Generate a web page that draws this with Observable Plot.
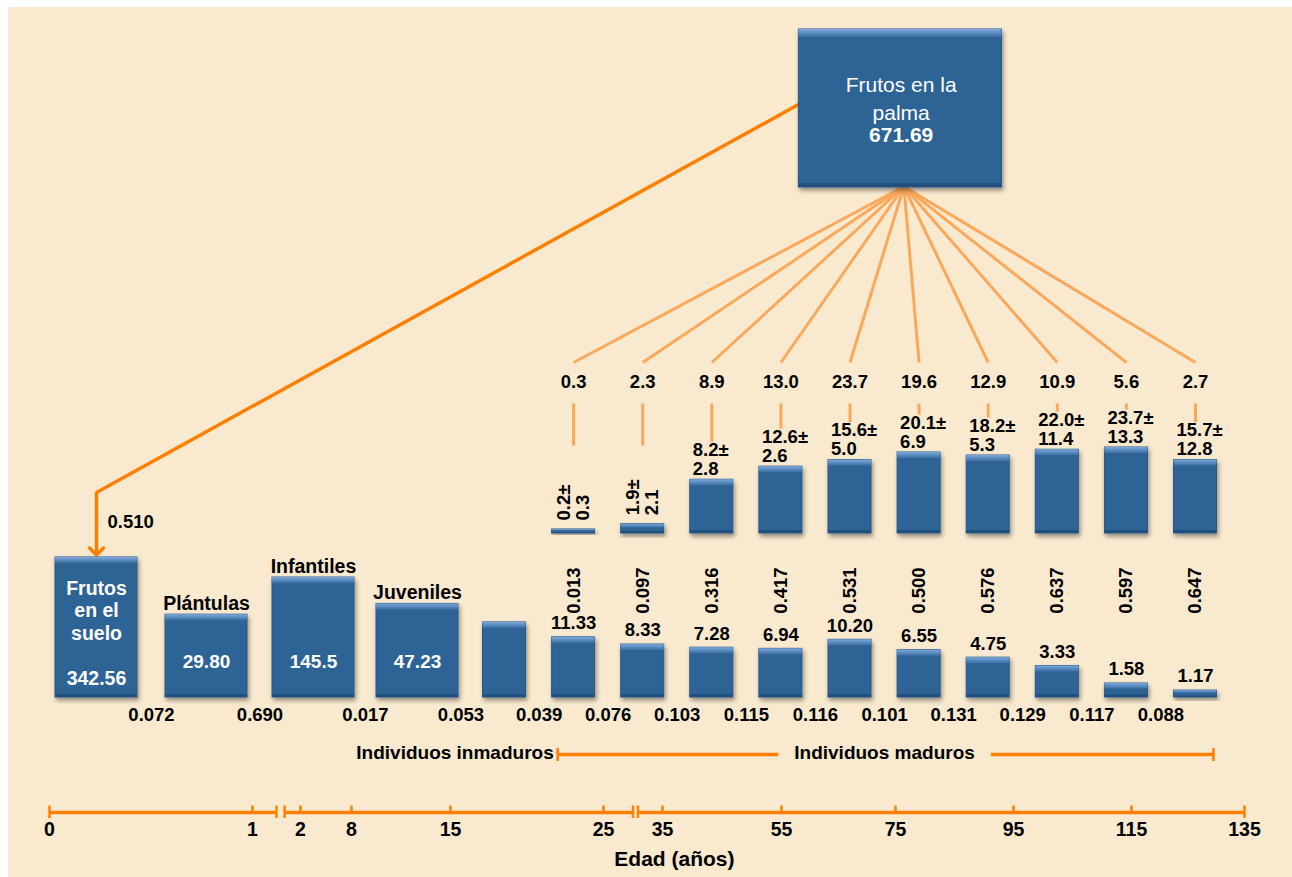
<!DOCTYPE html>
<html>
<head>
<meta charset="utf-8">
<script src="https://cdn.jsdelivr.net/npm/d3@7"></script>
<script src="https://cdn.jsdelivr.net/npm/@observablehq/plot@0.6"></script>
<style>
  html, body { margin: 0; padding: 0; background: #ffffff; }
  #fondo { position: absolute; left: 8px; top: 7px; width: 1284px; height: 870px; background: #F8E9CF; }
  #lienzo { position: absolute; left: 0; top: 0; width: 1292px; height: 877px; }
  #lienzo svg { display: block; }
</style>
</head>
<body>
<div id="fondo"></div>
<div id="lienzo"></div>
<script>
// ---------------- DATA ----------------
const nombresInmaduros = ["Frutos\nen el\nsuelo", "Plántulas", "Infantiles", "Juveniles"];
// density per stage (the 5th bar carries no printed value: its value is estimated from its height)
const densidad = [342.56, 29.80, 145.5, 47.23, 21.4, 11.33, 8.33, 7.28, 6.94, 10.20, 6.55, 4.75, 3.33, 1.58, 1.17];
const densidadRotulo = ["342.56", "29.80", "145.5", "47.23", "", "11.33", "8.33", "7.28", "6.94", "10.20", "6.55", "4.75", "3.33", "1.58", "1.17"];
const transicion = [0.072, 0.690, 0.017, 0.053, 0.039, 0.076, 0.103, 0.115, 0.116, 0.101, 0.131, 0.129, 0.117, 0.088];
const frutosPorEtapa = [0.3, 2.3, 8.9, 13.0, 23.7, 19.6, 12.9, 10.9, 5.6, 2.7];
const produccionMedia = [0.2, 1.9, 8.2, 12.6, 15.6, 20.1, 18.2, 22.0, 23.7, 15.7];
const produccionDE = [0.3, 2.1, 2.8, 2.6, 5.0, 6.9, 5.3, 11.4, 13.3, 12.8];
const probReproduccion = [0.013, 0.097, 0.316, 0.417, 0.531, 0.500, 0.576, 0.637, 0.597, 0.647];
const frutosPalma = 671.69;
const germinacion = 0.510;
const edades = [0, 1, 2, 8, 15, 25, 35, 55, 75, 95, 115, 135];
const textos = { palma: "Frutos en la\npalma", inmaduros: "Individuos inmaduros", maduros: "Individuos maduros", eje: "Edad (años)" };

// ---------------- STYLE / LAYOUT ----------------
const naranja = "#FF8000", naranjaClaro = "#F9A85C", azul = "#2E6396", azulOscuro = "#22507E", borde = "#28578A", beige = "#F8E9CF";
const fuente = "'Liberation Sans', Arial, Helvetica, sans-serif";
const W = 1292, H = 790, HA = 87;
const iMad = 5;                 // first mature stage
const BASE_INF = 697, BASE_SUP = 533;
const f3 = d3.format(".3f"), f1 = d3.format(".1f");

// height scales (Plot's own scales)
const hInf = Plot.scale({y: {type: "log", domain: [0.87, 342.56], range: [0, 140]}});
const hSup = Plot.scale({y: {type: "log", domain: [1.4, 23.7], range: [0, 86], clamp: true}});

const inf = densidad.map((v, i) => ({i, v, rot: densidadRotulo[i], top: BASE_INF - hInf.apply(v)}));
const sup = produccionMedia.map((m, k) => ({
  i: iMad + k, k, m, de: produccionDE[k], p: probReproduccion[k], f: frutosPorEtapa[k],
  top: BASE_SUP - Math.max(4, hSup.apply(m))
}));
const trans = transicion.map((t, k) => ({x: k + 0.5, t}));

function barras(data, half, base) {
  const o = {x1: "i", x2: "i", insetLeft: -half, insetRight: -half};
  return [
    Plot.rect(data, {...o, y1: () => base, y2: "top", fill: azul, stroke: borde, strokeWidth: 1, ariaLabel: () => "barra"}),
    Plot.rect(data, {...o, y1: "top", y2: d => d.top + Math.min(6, (base - d.top) * 0.4), fill: "url(#bisel)"}),
    Plot.rect(data, {...o, y1: d => base - Math.min(3, (base - d.top) * 0.2), y2: () => base, fill: azulOscuro})
  ];
}

const txt = {fontWeight: "bold", fontSize: 18.5, fill: "#000"};

const principal = Plot.plot({
  width: W, height: H,
  marginTop: 0, marginRight: 0, marginBottom: 0, marginLeft: 0,
  style: {fontFamily: fuente, background: "transparent", overflow: "visible"},
  x: {type: "linear", domain: [0, 1, 2, 3, 4, 14], range: [96, 206, 313, 417, 504, 1195], axis: null},
  y: {type: "linear", domain: [0, H], range: [0, H], axis: null},
  marks: [
    // fan from the palm fruits to every mature stage
    Plot.link(sup, {x1: () => 9.78, y1: () => 186, x2: "i", y2: () => 362, stroke: naranjaClaro, strokeWidth: 3}),
    // arrow to fruits on the ground
    Plot.line([{x: 8.28, y: 103}, {x: 0, y: 492}, {x: 0, y: 551}], {x: "x", y: "y", stroke: naranja, strokeWidth: 3.5, markerEnd: "arrow", strokeLinejoin: "miter"}),
    Plot.text([germinacion], {x: () => 0, y: () => 522, dx: 11, text: d => f3(d), textAnchor: "start", ...txt}),
    // palm box
    Plot.rect([frutosPalma], {x1: () => 8.26, x2: () => 11.2, y1: () => 29, y2: () => 187, fill: azul, stroke: borde, ariaLabel: () => "caja"}),
    Plot.rect([frutosPalma], {x1: () => 8.26, x2: () => 11.2, y1: () => 29, y2: () => 37, fill: "url(#bisel)"}),
    Plot.rect([frutosPalma], {x1: () => 8.26, x2: () => 11.2, y1: () => 183, y2: () => 187, fill: azulOscuro}),
    Plot.text([textos.palma], {x: () => 9.74, y: () => 97, text: d => d, fill: "white", fontSize: 21, lineHeight: 1.33}),
    Plot.text([frutosPalma], {x: () => 9.74, y: () => 135, text: d => d3.format(".2f")(d), fill: "white", fontSize: 21, fontWeight: "bold"}),
    // fruits per stage + connectors
    Plot.text(sup, {x: "i", y: () => 382, text: d => f1(d.f), ...txt}),
    Plot.link(sup, {x1: "i", x2: "i", y1: () => 403, y2: d => d.k < 2 ? 445 : d.top - 38, stroke: naranjaClaro, strokeWidth: 3}),
    // top bars (fruit production)
    ...barras(sup, 21.5, BASE_SUP),
    Plot.text(sup.filter(d => d.k >= 2), {x: "i", y: d => d.top - 20.5, dx: -19, text: d => `${f1(d.m)}±\n${f1(d.de)}`, textAnchor: "start", lineHeight: 1.03, ...txt}),
    Plot.text(sup.filter(d => d.k < 2), {x: "i", y: d => d.top - 9, text: d => `${f1(d.m)}±\n${f1(d.de)}`, rotate: -90, textAnchor: "start", lineHeight: 1.03, ...txt}),
    Plot.text(sup, {x: "i", y: () => 590, text: d => f3(d.p), rotate: -90, ...txt}),
    // bottom bars (density)
    ...barras(inf.filter(d => d.i < 4), 41, BASE_INF),
    ...barras(inf.filter(d => d.i >= 4), 21.5, BASE_INF),
    Plot.text(inf.filter(d => d.i >= iMad), {x: "i", y: d => d.top - 14, text: "rot", ...txt}),
    Plot.text(inf.filter(d => d.i >= 1 && d.i < 4), {x: "i", y: () => 661, text: "rot", ...txt, fontSize: 19, fill: "white"}),
    Plot.text(inf.filter(d => d.i >= 1 && d.i < 4), {x: "i", y: d => d.top - 11, text: d => nombresInmaduros[d.i], ...txt, fontSize: 19.5}),
    Plot.text(inf.filter(d => d.i === 0), {x: "i", y: () => 609.5, text: d => nombresInmaduros[d.i], ...txt, fontSize: 19.5, fill: "white", lineHeight: 1.17}),
    Plot.text(inf.filter(d => d.i === 0), {x: "i", y: () => 678, text: "rot", ...txt, fontSize: 19.5, fill: "white"}),
    // transitions
    Plot.text(trans, {x: "x", y: () => 715, text: d => f3(d.t), ...txt}),
    // immature / mature bracket
    Plot.ruleY([0], {x1: () => 4.77, x2: () => 14.26, y: () => 754, stroke: naranja, strokeWidth: 3.5}),
    Plot.ruleX([4.77, 14.26], {x: d => d, y1: () => 748, y2: () => 761, stroke: naranja, strokeWidth: 2.5}),
    Plot.text([textos.inmaduros], {x: () => 4.77, y: () => 752, dx: -4, text: d => d, textAnchor: "end", ...txt, fontSize: 19}),
    Plot.text([textos.maduros], {x: () => 9.5, y: () => 752, text: d => d, ...txt, fontSize: 19, stroke: beige, strokeWidth: 34, strokeLinejoin: "round", paintOrder: "stroke"})
  ]
});

// bevel gradient + drop shadow
const svgP = d3.select(principal);
const defs = svgP.insert("defs", ":first-child");
const g = defs.append("linearGradient").attr("id", "bisel").attr("x1", 0).attr("y1", 0).attr("x2", 0).attr("y2", 1);
g.append("stop").attr("offset", "0%").attr("stop-color", "#7EA9DA");
g.append("stop").attr("offset", "100%").attr("stop-color", "#3A6EA5");
const fl = defs.append("filter").attr("id", "sombra").attr("x", "-30%").attr("y", "-30%").attr("width", "170%").attr("height", "180%");
fl.append("feDropShadow").attr("dx", 1.5).attr("dy", 3).attr("stdDeviation", 2.2).attr("flood-color", "#000").attr("flood-opacity", 0.4);
svgP.selectAll('[aria-label="barra"], [aria-label="caja"]').attr("filter", "url(#sombra)");

// ---------------- AGE AXIS ----------------
const tramos = [[0, 1.5], [1.67, 30], [30.85, 135]];
const eje = Plot.plot({
  width: W, height: HA,
  marginTop: 0, marginRight: 0, marginBottom: 0, marginLeft: 0,
  style: {fontFamily: fuente, background: "transparent", overflow: "visible"},
  x: {type: "linear", domain: edades, range: [49, 252, 300, 351, 450, 603, 662, 781, 895, 1013, 1131, 1244], axis: null},
  y: {type: "linear", domain: [0, HA], range: [0, HA], axis: null},
  marks: [
    Plot.ruleY(tramos, {x1: d => d[0], x2: d => d[1], y: () => 22, stroke: naranja, strokeWidth: 3.5}),
    Plot.ruleX(tramos.flat(), {x: d => d, y1: () => 15.5, y2: () => 28, stroke: naranja, strokeWidth: 2.5}),
    Plot.ruleX(edades.slice(1, -1), {x: d => d, y1: () => 15.5, y2: () => 22, stroke: naranja, strokeWidth: 2.5}),
    Plot.text(edades, {x: d => d, y: () => 39, text: d => String(d), fontWeight: "bold", fontSize: 19.5}),
    Plot.text([textos.eje], {x: () => 37, y: () => 69, text: d => d, fontWeight: "bold", fontSize: 21})
  ]
});

const lienzo = document.getElementById("lienzo");
lienzo.appendChild(principal);
lienzo.appendChild(eje);
</script>
</body>
</html>
